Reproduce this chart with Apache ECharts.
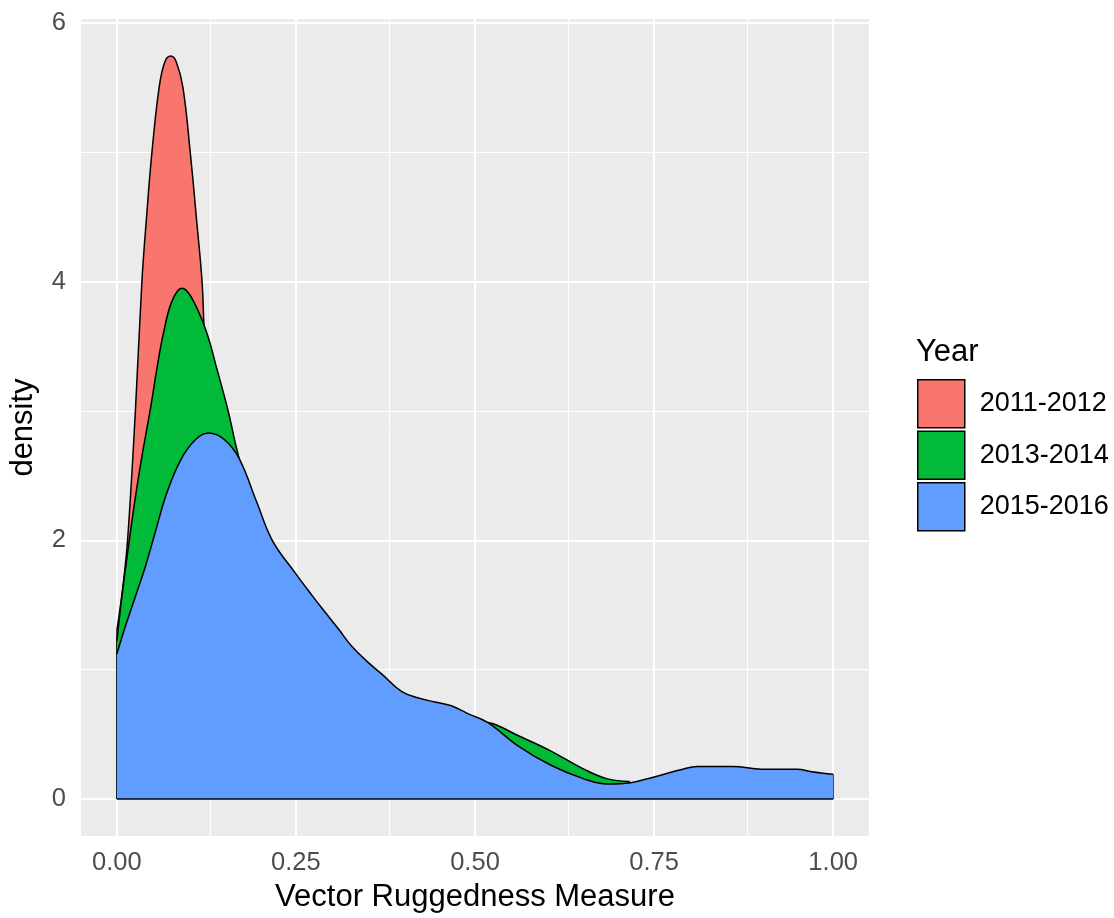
<!DOCTYPE html>
<html><head><meta charset="utf-8">
<script src="https://cdn.jsdelivr.net/npm/echarts@6/dist/echarts.min.js"></script>
<style>html,body{margin:0;padding:0;background:#fff}#c{width:1114px;height:918px}</style>
</head><body><div id="c"></div><script>
const seriesNames = ['2011-2012', '2013-2014', '2015-2016'];
const seriesColors = ['#F8766D', '#00BA38', '#619CFF'];

const redX = [0, 0.008, 0.015, 0.026, 0.035, 0.0415, 0.049, 0.059, 0.067, 0.0753, 0.083, 0.0924, 0.1025, 0.111, 0.119, 0.122, 0.13, 0.15, 0.18, 0.22, 0.3, 0.4, 0.5, 0.6, 0.65, 0.716];
const redY = [1.3, 1.62, 2.0, 3.01, 4.0, 4.5, 5.0, 5.5, 5.7, 5.745, 5.7, 5.5, 5.0, 4.5, 4.0, 3.63, 3.0, 2.2, 1.6, 1.2, 0.8, 0.5, 0.38, 0.2, 0.12, 0.08];

const greenX = [0, 0.007, 0.015, 0.025, 0.036, 0.047, 0.056, 0.065, 0.077, 0.091, 0.104, 0.124, 0.14, 0.155, 0.171, 0.2, 0.25, 0.3, 0.35, 0.4, 0.45, 0.5, 0.523, 0.56, 0.606, 0.652, 0.685, 0.716];
const greenY = [1.22, 1.56, 1.9, 2.3, 2.68, 3.02, 3.33, 3.6, 3.85, 3.95, 3.88, 3.63, 3.32, 3.01, 2.63, 2.12, 1.6, 1.25, 0.98, 0.78, 0.7, 0.6, 0.585, 0.49, 0.37, 0.23, 0.155, 0.135];

const blueX = [0, 0.01, 0.025, 0.04, 0.053, 0.07, 0.09, 0.11, 0.128, 0.15, 0.171, 0.195, 0.217, 0.25, 0.273, 0.287, 0.31, 0.328, 0.35, 0.37, 0.398, 0.421, 0.444, 0.467, 0.49, 0.518, 0.56, 0.606, 0.652, 0.685, 0.717, 0.75, 0.79, 0.81, 0.86, 0.9, 0.95, 0.97, 1.0];
const blueY = [1.12, 1.3, 1.55, 1.8, 2.05, 2.37, 2.63, 2.78, 2.83, 2.78, 2.63, 2.3, 2.0, 1.74, 1.57, 1.47, 1.31, 1.18, 1.06, 0.965, 0.83, 0.78, 0.75, 0.72, 0.66, 0.59, 0.41, 0.26, 0.155, 0.115, 0.125, 0.17, 0.23, 0.25, 0.25, 0.23, 0.23, 0.21, 0.19];

const xTicks = [0, 0.25, 0.5, 0.75, 1];
const xTickLabels = ['0.00', '0.25', '0.50', '0.75', '1.00'];
const xMinor = [0.125, 0.375, 0.625, 0.875];
const yTicks = [0, 2, 4, 6];
const yTickLabels = ['0', '2', '4', '6'];
const yMinor = [1, 3, 5];

const FONT = '"Liberation Sans", Arial, sans-serif';
const zip = (xs, ys) => xs.map((x, i) => [x, ys[i]]);
const allX = [redX, greenX, blueX];
const allY = [redY, greenY, blueY];

const gridLines = [];
xTicks.forEach(v => gridLines.push({xAxis: v, lineStyle: {width: 2}}));
xMinor.forEach(v => gridLines.push({xAxis: v, lineStyle: {width: 1}}));
yTicks.forEach(v => gridLines.push({yAxis: v, lineStyle: {width: 2}}));
yMinor.forEach(v => gridLines.push({yAxis: v, lineStyle: {width: 1}}));

const series = [{
  type: 'line', data: [], z: 1, silent: true, symbol: 'none',
  markLine: {
    z: 1, silent: true, symbol: ['none', 'none'], label: {show: false}, animation: false,
    lineStyle: {color: '#FFFFFF', type: 'solid'},
    data: gridLines
  }
}];
seriesNames.forEach((n, i) => {
  const xs = allX[i], ys = allY[i], last = xs.length - 1;
  const edges = [[{coord: [xs[0], 0]}, {coord: [xs[0], ys[0]]}]];
  if (i === 2) edges.push([{coord: [xs[last], 0]}, {coord: [xs[last], ys[last]]}]);
  series.push({
    type: 'line', name: n, data: zip(xs, ys),
    smooth: 0.4, symbol: 'none', z: 2 + i, silent: true,
    lineStyle: {color: '#000', width: 1.5},
    itemStyle: {color: seriesColors[i]},
    areaStyle: {color: seriesColors[i], opacity: 1},
    markLine: {
      z: 2 + i, silent: true, symbol: ['none', 'none'], label: {show: false}, animation: false,
      lineStyle: {color: '#000', width: 1.5, type: 'solid'},
      data: edges
    }
  });
});
series.push({
  type: 'line', data: [[blueX[0], 0], [blueX[blueX.length - 1], 0]], z: 6, silent: true,
  symbol: 'none', lineStyle: {color: '#000', width: 1.5}
});

const chart = echarts.init(document.getElementById('c'), null, {renderer: 'canvas'});
chart.setOption({
  animation: false,
  textStyle: {fontFamily: FONT},
  grid: {left: 76, right: 245, top: 19, bottom: 82, show: true, backgroundColor: '#EBEBEB', borderWidth: 0},
  xAxis: {
    type: 'value', min: -0.05, max: 1.05,
    axisLine: {show: false}, splitLine: {show: false},
    axisTick: {show: true, customValues: xTicks, length: 7, lineStyle: {color: '#333', width: 1.5}},
    axisLabel: {customValues: xTicks, formatter: v => xTickLabels[xTicks.indexOf(v)] ?? '', fontSize: 25.5, color: '#4D4D4D', margin: 14, fontFamily: FONT},
    name: 'Vector Ruggedness Measure', nameLocation: 'middle', nameGap: 46,
    nameTextStyle: {fontSize: 31, color: '#000', fontFamily: FONT}
  },
  yAxis: {
    type: 'value', min: -0.287, max: 6.032,
    axisLine: {show: false}, splitLine: {show: false},
    axisTick: {show: true, customValues: yTicks, length: 7, lineStyle: {color: '#333', width: 1.5}},
    axisLabel: {customValues: yTicks, formatter: v => yTickLabels[yTicks.indexOf(v)] ?? '', fontSize: 25.5, color: '#4D4D4D', margin: 15, fontFamily: FONT},
    name: 'density', nameLocation: 'middle', nameGap: 42, nameRotate: 90,
    nameTextStyle: {fontSize: 31, color: '#000', fontFamily: FONT}
  },
  legend: {
    data: seriesNames.map((n, i) => ({name: n, itemStyle: {color: seriesColors[i]}})),
    icon: 'rect', orient: 'vertical', left: 917, top: 379, padding: 0,
    itemWidth: 47, itemHeight: 48, itemGap: 2,
    itemStyle: {borderColor: '#000', borderWidth: 1.5},
    textStyle: {fontSize: 27, color: '#000', fontFamily: FONT, padding: [0, 0, 0, 10]},
    selectedMode: false
  },
  graphic: [{
    type: 'text', x: 916, y: 352,
    style: {text: 'Year', fontSize: 31, fill: '#000', fontFamily: FONT, verticalAlign: 'middle'}
  }],
  series: series
});
</script></body></html>
